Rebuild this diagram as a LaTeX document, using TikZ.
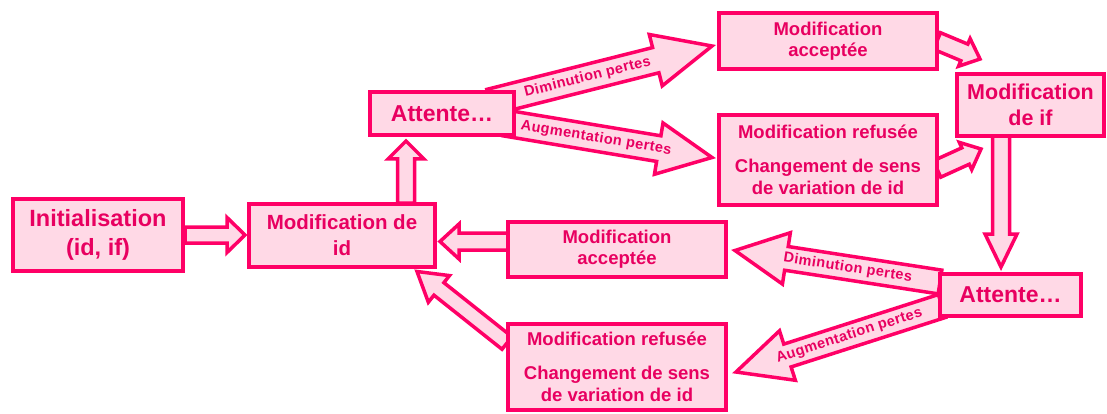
\documentclass[tikz,border=0pt]{standalone}
\usepackage{fontspec}
\setmainfont{Liberation Sans}
\usetikzlibrary{calc,backgrounds}
\definecolor{pk}{RGB}{255,0,102}
\definecolor{pkfill}{RGB}{255,217,230}
\definecolor{pktext}{RGB}{232,0,96}
\tikzset{
  box/.style={draw=pk, fill=pkfill, line width=4pt, text=pktext, align=center, inner sep=0pt},
  barrow/.style={draw=pk, fill=pkfill, line width=3.5pt, line join=miter},
  lbl/.style={text=pktext, font=\bfseries\fontsize{14.5}{16}\selectfont\addfontfeature{LetterSpace=3}, inner sep=0pt, sloped}
}
\newcommand\blockarr[5]{%
  \draw[barrow] ($(#1)!#3!90:(#2)$) -- ($(#2)!#5!(#1)!#3!90:(#2)$) -- ($(#2)!#5!(#1)!#4!90:(#2)$)
    -- (#2) -- ($(#2)!#5!(#1)!#4!-90:(#2)$) -- ($(#2)!#5!(#1)!#3!-90:(#2)$) -- ($(#1)!#3!-90:(#2)$) -- cycle;}
\begin{document}
\begin{tikzpicture}[x=1pt,y=-1pt]
\useasboundingbox (0,0) rectangle (1107,414);
% boxes
\node[box, minimum width=170pt, minimum height=72pt, font=\bfseries\fontsize{23.5}{29}\selectfont] (init) at (98,235) {Initialisation\\(id, if)};
\node[box, minimum width=186pt, minimum height=63pt, font=\bfseries\fontsize{20.5}{26}\selectfont] (modid) at (342,235.5) {Modification de\\id};
\node[box, minimum width=144pt, minimum height=43pt, font=\bfseries\fontsize{23}{27}\selectfont] (att1) at (442,113.5) {Attente…};
\node[box, minimum width=218pt, minimum height=56pt, font=\bfseries\fontsize{18.5}{21}\selectfont] (macc1) at (828,41) {Modification\\acceptée};
\node[box, minimum width=218pt, minimum height=90pt, font=\bfseries\fontsize{18.5}{22}\selectfont] (mref1) at (828,160) {Modification refusée\\[12pt]Changement de sens\\de variation de id};
\node[box, minimum width=147pt, minimum height=62pt, font=\bfseries\fontsize{21.5}{26}\selectfont] (modif) at (1030.5,105) {Modification\\de if};
\node[box, minimum width=141pt, minimum height=42pt, font=\bfseries\fontsize{23}{27}\selectfont] (att2) at (1010.5,295) {Attente…};
\node[box, minimum width=218pt, minimum height=55pt, font=\bfseries\fontsize{18.5}{21}\selectfont] (macc2) at (617,249.5) {Modification\\acceptée};
\node[box, minimum width=218pt, minimum height=86pt, font=\bfseries\fontsize{18.5}{22}\selectfont] (mref2) at (617,367) {Modification refusée\\[12pt]Changement de sens\\de variation de id};
% connector end points
\coordinate (s1) at (185,235);   \coordinate (e1) at (245,235);
\coordinate (s2) at (406,203);   \coordinate (e2) at (406,141);
\coordinate (s3) at (490,102);   \coordinate (e3) at (712,46);
\coordinate (s4) at (505,123);   \coordinate (e4) at (712,157.5);
\coordinate (s5) at (937,41);    \coordinate (e5) at (980,59);
\coordinate (s6) at (937,169);   \coordinate (e6) at (981,149);
\coordinate (s7) at (1001,136);  \coordinate (e7) at (1001,267);
\coordinate (s8) at (940,282);   \coordinate (e8) at (735,250.5);
\coordinate (s9) at (942,306);   \coordinate (e9) at (736,372);
\coordinate (s10) at (509,241.5); \coordinate (e10) at (440,241.5);
\coordinate (s11) at (507,343);  \coordinate (e11) at (417,271.5);
\begin{scope}[on background layer]
\fill[white] (0,0) rectangle (1107,414);
\blockarr{s1}{e1}{8pt}{17.5pt}{18pt}
\blockarr{s2}{e2}{8.5pt}{18pt}{18pt}
\blockarr{s3}{e3}{13pt}{26.5pt}{58pt}
\blockarr{s4}{e4}{13pt}{26pt}{54pt}
\blockarr{s5}{e5}{9pt}{15pt}{17pt}
\blockarr{s6}{e6}{9pt}{15pt}{17pt}
\blockarr{s7}{e7}{8.5pt}{16pt}{33pt}
\blockarr{s8}{e8}{12pt}{26pt}{52pt}
\blockarr{s9}{e9}{12pt}{26pt}{54pt}
\blockarr{s10}{e10}{8.5pt}{17.5pt}{19pt}
\blockarr{s11}{e11}{8pt}{17pt}{28pt}
\path (s3) -- (e3) node[lbl, pos=0.44] {Diminution pertes};
\path (s4) -- (e4) node[lbl, pos=0.44] {Augmentation pertes};
\path (s8) -- (e8) node[lbl, pos=0.45] {Diminution pertes};
\path (s9) -- (e9) node[lbl, pos=0.45] {Augmentation pertes};
\end{scope}
\end{tikzpicture}
\end{document}
